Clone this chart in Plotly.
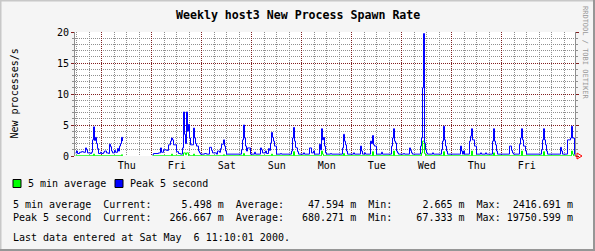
import plotly.graph_objects as go
from datetime import datetime, timedelta

# ---------------- data ----------------
START = datetime(2000, 4, 26, 11, 10)
END = datetime(2000, 5, 6, 11, 10)
ROW_MIN = 28.8  # minutes per consolidated RRA row (10 days / 500 rows)

# Peak 5 second (processes/s): step series, (row index, value held from that row)
peak_rows = [0, 1, 2, 4, 6, 8, 10, 11, 12, 15, 16, 17, 18, 19, 20, 21, 22, 23, 25, 26,
             28, 29, 31, 33, 34, 35, 36, 37, 39, 40, 42, 43, 44, 45, 46, 47, 48,
             77, 78, 83, 85, 86, 88, 91, 93, 95, 96, 97, 98, 101, 103, 105, 107, 108,
             109, 110, 111, 112, 113, 114, 115, 118, 119, 120, 121, 123, 124, 125,
             129, 131, 134, 136, 137, 141, 142, 144, 145, 146, 148, 149, 150, 151,
             166, 167, 168, 169, 170, 171, 172, 175, 179, 180, 185, 186, 187, 190, 191,
             193, 194, 195, 196, 197, 198, 199, 201, 205, 206,
             216, 217, 218, 219, 220, 221, 222, 223, 228, 229, 234, 236, 238, 239,
             244, 245, 246, 247, 248, 249, 250, 251, 255, 256,
             267, 268, 269, 270, 271, 272, 278, 279, 285, 286, 287, 289, 290,
             295, 296, 297, 298, 299, 301, 306, 307,
             316, 317, 318, 319, 320, 321, 322, 323, 328, 329, 334, 335, 336, 337,
             345, 346, 347, 348, 349, 350, 351, 352, 357, 358,
             366, 367, 368, 369, 370, 371, 372, 385, 386, 387, 388, 389,
             394, 395, 396, 397, 399, 401, 405, 406, 410, 411,
             417, 418, 419, 420, 421, 422, 434, 436, 437, 438,
             444, 445, 446, 447, 448, 450, 451,
             466, 467, 468, 469, 470, 471, 472, 485, 486, 487,
             492, 495, 496, 497, 499, 500]
peak_vals = [0.5, 0.8, 0.4, 0.6, 0.7, 0.6, 1.3, 1.0, 0.5, 0.4, 0.6, 2.6, 4.7, 2.5, 3.0, 2.0, 1.2, 0.4, 0.6, 0.4,
             0.6, 0.8, 0.5, 0.4, 1.9, 1.5, 0.8, 0.5, 0.9, 0.6, 1.2, 0.8, 1.6, 2.0, 3.0, 2.4, None,
             0.2, 0.4, 0.5, 1.3, 0.6, 1.0, 0.9, 1.8, 2.4, 2.9, 2.6, 1.8, 0.7, 0.4, 0.3, 1.3, 7.1,
             3.5, 2.0, 7.1, 4.0, 5.1, 2.9, 1.8, 4.5, 2.9, 2.0, 1.6, 0.8, 0.5, 0.3,
             0.4, 0.3, 1.4, 0.9, 0.5, 0.3, 0.8, 0.6, 1.2, 1.9, 2.6, 1.6, 0.8, 0.3,
             1.0, 2.6, 5.0, 2.9, 1.6, 0.8, 1.3, 0.3, 0.6, 0.3, 1.3, 1.0, 0.5, 0.8, 0.4,
             1.2, 0.9, 2.1, 3.8, 3.0, 2.4, 1.6, 0.3, 0.4, 0.3,
             0.8, 2.9, 4.6, 2.4, 1.4, 1.3, 0.7, 0.3, 0.5, 0.3, 1.3, 0.5, 0.8, 0.3,
             1.9, 1.0, 4.4, 2.6, 3.0, 1.6, 0.5, 0.3, 0.4, 0.3,
             1.3, 3.5, 2.4, 1.8, 0.8, 0.3, 0.5, 0.3, 1.6, 0.8, 0.3, 0.5, 0.3,
             2.4, 2.0, 3.3, 1.8, 1.6, 0.3, 0.6, 0.3,
             1.6, 2.9, 4.4, 2.4, 2.1, 0.8, 0.5, 0.3, 0.4, 0.3, 1.3, 0.9, 0.5, 0.3,
             1.6, 2.9, 11.0, 19.75, 2.1, 1.0, 0.5, 0.3, 0.5, 0.3,
             1.0, 2.4, 4.8, 2.6, 1.6, 0.8, 0.3, 1.6, 0.8, 0.3, 0.8, 0.3,
             2.4, 3.2, 4.4, 2.6, 1.6, 0.3, 0.5, 0.3, 0.5, 0.3,
             2.4, 4.4, 2.4, 1.8, 0.8, 0.3, 1.6, 0.9, 0.5, 0.3,
             1.9, 2.9, 4.4, 2.6, 1.6, 0.8, 0.3,
             1.0, 2.6, 4.4, 2.6, 1.8, 0.8, 0.3, 1.4, 0.8, 0.3,
             2.6, 2.9, 4.8, 2.9, 0.27, 0.27]

# 5 min average (processes/s)
avg_rows = [0, 18, 19, 46, 47, 48, 77, 96, 97, 108, 110, 111, 113, 118, 119, 148, 149,
            168, 169, 196, 197, 218, 219, 246, 247, 248, 268, 269, 297, 298, 318, 319,
            346, 347, 349, 350, 368, 369, 396, 397, 418, 419, 446, 447, 468, 469,
            496, 497, 498, 499, 500]
avg_vals = [0.03, 0.3, 0.03, 0.2, 0.03, None, 0.03, 0.3, 0.03, 0.5, 0.2, 0.5, 0.03, 0.3, 0.03, 0.2, 0.03,
            0.4, 0.03, 0.3, 0.03, 0.7, 0.03, 0.8, 0.3, 0.03, 0.4, 0.03, 0.7, 0.03, 0.8, 0.03,
            0.5, 2.4, 0.4, 0.03, 0.7, 0.03, 0.8, 0.03, 0.5, 0.03, 0.8, 0.03, 0.7, 0.03,
            0.8, 0.3, 0.03, 0.0055, 0.0055]

day_dates = ["2000-04-27", "2000-04-28", "2000-04-29", "2000-04-30", "2000-05-01",
             "2000-05-02", "2000-05-03", "2000-05-04", "2000-05-05"]
day_labels = ["Thu", "Fri", "Sat", "Sun", "Mon", "Tue", "Wed", "Thu", "Fri"]
y_ticks = [0, 5, 10, 15, 20]

series_names = ["5 min average", "Peak 5 second"]
stat_current = ["5.498", "266.667"]
stat_average = ["47.594", "680.271"]
stat_min = ["2.665", "67.333"]
stat_max = ["2416.691", "19750.599"]
last_update = "Last data entered at Sat May  6 11:10:01 2000."
title_text = "Weekly host3 New Process Spawn Rate"
y_title = "New processes/s"

# ---------------- styling ----------------
W, H = 595, 251
L, R, T, B = 75, 20, 32, 95
PW, PH = W - L - R, H - T - B
BACK, CANVAS = "#f5f5f5", "#ffffff"
SHADEA, SHADEB = "#c8c8c8", "#969696"
GRID, MGRID = "#8f8f8f", "#821e1e"
GREEN, BLUE = "#00ff00", "#0000ff"
FONT = "DejaVu Sans Mono"


def px(x):
    return (x - L) / PW


def py(y):
    return (H - B - y) / PH


def t(i):
    # each row drawn centred on its pixel column
    return START + timedelta(minutes=ROW_MIN * (i + 0.5))


def nb(s):
    return s.replace(" ", "\u00a0")


fig = go.Figure()
fig.add_trace(go.Scatter(x=[t(i) for i in avg_rows], y=avg_vals, mode="lines",
                         line=dict(color=GREEN, width=1, shape="hv"), hoverinfo="skip",
                         showlegend=False))
fig.add_trace(go.Scatter(x=[t(i) for i in peak_rows], y=peak_vals, mode="lines",
                         line=dict(color=BLUE, width=1, shape="hv"), hoverinfo="skip",
                         showlegend=False))
# invisible trace for the label axis
fig.add_trace(go.Scatter(x=[START, END], y=[None, None], xaxis="x2", yaxis="y",
                         mode="lines", showlegend=False, hoverinfo="skip"))

midnights = [datetime.fromisoformat(d) for d in day_dates]
noons = [d + timedelta(hours=12) for d in midnights]

fig.update_layout(
    width=W, height=H, margin=dict(l=L, r=R, t=T, b=B),
    paper_bgcolor=BACK, plot_bgcolor=CANVAS,
    font=dict(family=FONT, size=10, color="#000"),
    xaxis=dict(type="date", range=[START, END], showticklabels=False,
               tickvals=midnights, ticks="", showgrid=True, gridcolor=MGRID,
               griddash="1px,1px", gridwidth=1, zeroline=False, showline=False,
               minor=dict(dtick=6 * 3600 * 1000, tick0="2000-04-27", showgrid=True,
                          gridcolor=GRID, griddash="1px,1px", gridwidth=1)),
    xaxis2=dict(type="date", range=[START, END], overlaying="x", anchor="y", side="bottom",
                tickvals=noons, ticktext=day_labels, ticks="", showgrid=False,
                zeroline=False, showline=False, ticklabelstandoff=2,
                tickfont=dict(family=FONT, size=10)),
    yaxis=dict(range=[0, 20], tickvals=y_ticks, ticks="outside", ticklen=3, tickcolor=MGRID,
               showgrid=True, gridcolor=MGRID, griddash="1px,1px", zeroline=False,
               showline=True, linecolor=GRID, linewidth=1, mirror="ticks",
               tickfont=dict(family=FONT, size=10),
               minor=dict(dtick=1, showgrid=True, gridcolor=GRID, griddash="1px,1px",
                          ticks="outside", ticklen=2, tickcolor=GRID)),
    showlegend=False,
)

ann = []
ann.append(dict(text=f"<b>{nb(title_text)}</b>", x=px(W / 2), y=py(15), xref="paper", yref="paper",
                showarrow=False, xanchor="center", yanchor="middle",
                font=dict(family=FONT, size=11.6, color="#000")))
ann.append(dict(text=nb(y_title), x=px(13.5), y=py(94), xref="paper", yref="paper",
                showarrow=False, textangle=-90, xanchor="center", yanchor="middle",
                font=dict(family=FONT, size=10, color="#000")))
ann.append(dict(text=nb("RRDTOOL / TOBI OETIKER"), x=px(585), y=py(53), xref="paper", yref="paper",
                showarrow=False, textangle=90, xanchor="center", yanchor="middle",
                font=dict(family=FONT, size=7, color="#999999")))
# legend
ann.append(dict(text=nb(series_names[0]), x=px(25.5), y=py(183.5), xref="paper", yref="paper",
                showarrow=False, xanchor="left", yanchor="middle"))
ann.append(dict(text=nb(series_names[1]), x=px(128), y=py(183.5), xref="paper", yref="paper",
                showarrow=False, xanchor="left", yanchor="middle"))
for k in range(2):
    line = (f"{series_names[k]:<13}  Current: {stat_current[k]:>9} m  Average: {stat_average[k]:>9} m"
            f"  Min: {stat_min[k]:>9} m  Max: {stat_max[k]:>9} m")
    ann.append(dict(text=nb(line), x=px(11), y=py(204.3 + 13 * k), xref="paper", yref="paper",
                    showarrow=False, xanchor="left", yanchor="middle"))
ann.append(dict(text=nb(last_update), x=px(11), y=py(237.7), xref="paper", yref="paper",
                showarrow=False, xanchor="left", yanchor="middle"))
fig.update_layout(annotations=ann)

shapes = []
# legend boxes
for x0, col in [(13, GREEN), (115, BLUE)]:
    shapes.append(dict(type="rect", xref="paper", yref="paper", x0=px(x0), x1=px(x0 + 8),
                       y0=py(179.5), y1=py(187.5), fillcolor=col, line=dict(color="#000", width=1)))
# axis arrow
shapes.append(dict(type="path", xref="paper", yref="paper",
                   path=f"M {px(575)},{py(156)} L {px(577)},{py(156)} M {px(577)},{py(153)} "
                        f"L {px(582)},{py(156)} L {px(577)},{py(159)} Z",
                   line=dict(color="#ff0000", width=1)))
# frame shading
shapes.append(dict(type="line", xref="paper", yref="paper", x0=px(0), x1=px(W), y0=py(0.5), y1=py(0.5),
                   line=dict(color=SHADEA, width=2)))
shapes.append(dict(type="line", xref="paper", yref="paper", x0=px(0.5), x1=px(0.5), y0=py(0), y1=py(H),
                   line=dict(color=SHADEA, width=2)))
shapes.append(dict(type="line", xref="paper", yref="paper", x0=px(0), x1=px(W), y0=py(H - 1), y1=py(H - 1),
                   line=dict(color=SHADEB, width=2)))
shapes.append(dict(type="line", xref="paper", yref="paper", x0=px(W - 1), x1=px(W - 1), y0=py(0), y1=py(H),
                   line=dict(color=SHADEB, width=2)))
fig.update_layout(shapes=shapes)

fig.write_html("out.html")
